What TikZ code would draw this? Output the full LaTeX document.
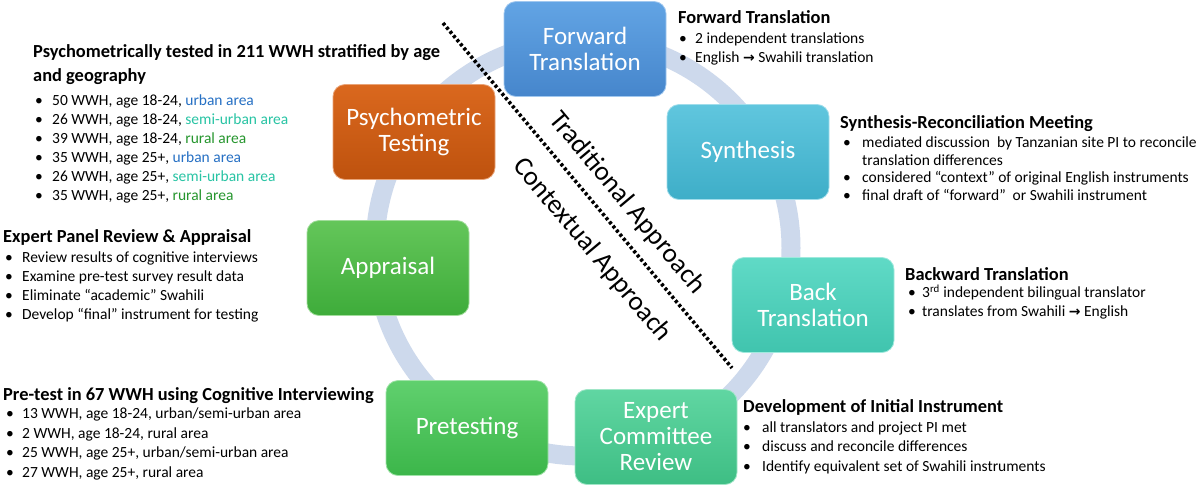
\documentclass[tikz,border=0pt]{standalone}
\usepackage{fontspec}
\setmainfont{Carlito}
\newfontfamily\arrfont{DejaVu Sans}
\definecolor{ringc}{RGB}{205,217,236}
\definecolor{urb}{RGB}{38,112,196}
\definecolor{semi}{RGB}{40,196,164}
\definecolor{rur}{RGB}{38,150,46}
\definecolor{fwdT}{RGB}{98,164,228}\definecolor{fwdB}{RGB}{70,134,204}
\definecolor{synT}{RGB}{96,198,222}\definecolor{synB}{RGB}{62,174,200}
\definecolor{bckT}{RGB}{96,218,198}\definecolor{bckB}{RGB}{64,196,174}
\definecolor{expT}{RGB}{96,214,162}\definecolor{expB}{RGB}{62,190,132}
\definecolor{preT}{RGB}{96,208,110}\definecolor{preB}{RGB}{60,182,74}
\definecolor{appT}{RGB}{100,198,90}\definecolor{appB}{RGB}{62,172,58}
\definecolor{psyT}{RGB}{218,104,30}\definecolor{psyB}{RGB}{190,82,14}
\newcommand{\arr}{{\arrfont\bfseries\fontsize{14}{14}\selectfont →}}
\newcommand{\bu}[1]{\makebox[#1][l]{•}}
\begin{document}
\begin{tikzpicture}[x=1pt,y=-1pt,
  stage/.style={rounded corners=12pt, minimum width=162pt, minimum height=95pt,
    text=white, font=\fontsize{25}{26}\selectfont, align=center, inner sep=0pt,
    line width=0.8pt},
  hd/.style={anchor=base west, inner sep=0pt, font=\bfseries\fontsize{18.4}{22}\selectfont},
  bl/.style={anchor=base west, inner sep=0pt, font=\fontsize{15.5}{19}\selectfont},
  appr/.style={font=\fontsize{27}{30}\selectfont, inner sep=0pt, rotate=-50}]
\useasboundingbox (0,0) rectangle (1200,485);
\fill[white] (0,0) rectangle (1200,485);
% ring
\coordinate (rc) at (583,248);
\draw[ringc, line width=19pt] (rc) circle (208);
% stages
\node[stage, top color=fwdT, bottom color=fwdB, draw=fwdT!60!white] (fwd) at (585,49) {Forward\\Translation};
\node[stage, top color=synT, bottom color=synB, draw=synT!60!white] (syn) at (748,152) {Synthesis};
\node[stage, top color=bckT, bottom color=bckB, draw=bckT!60!white] (bck) at (813,305) {Back\\Translation};
\node[stage, top color=expT, bottom color=expB, draw=expT!60!white] (exp) at (656,437) {Expert\\Committee\\Review};
\node[stage, top color=preT, bottom color=preB, draw=preT!60!white] (pre) at (467,428) {Pretesting};
\node[stage, top color=appT, bottom color=appB, draw=appT!60!white] (app) at (388,268) {Appraisal};
\node[stage, top color=psyT, bottom color=psyB, draw=psyT!60!white] (psy) at (414,132) {Psychometric\\Testing};
% dotted divider
\coordinate (d1) at (443,23);
\coordinate (d2) at (732,368);
\draw[line width=3.6pt, dash pattern=on 3pt off 2.4pt] (d1) -- (d2);
\node[appr] (trad) at (627,203) {Traditional Approach};
\node[appr] (ctx) at (592,250) {Contextual Approach};
% psychometric block
\node[hd] (ph1) at (33,57.5) {Psychometrically tested in 211 WWH stratified by age};
\node[hd] (ph2) at (33,81.5) {and geography};
\node[bl] (pb1) at (35,105.5) {\bu{17pt}50 WWH, age 18-24, \textcolor{urb}{urban area}};
\node[bl] (pb2) at (35,124.5) {\bu{17pt}26 WWH, age 18-24, \textcolor{semi}{semi-urban area}};
\node[bl] (pb3) at (35,143.5) {\bu{17pt}39 WWH, age 18-24, \textcolor{rur}{rural area}};
\node[bl] (pb4) at (35,162.5) {\bu{17pt}35 WWH, age 25+, \textcolor{urb}{urban area}};
\node[bl] (pb5) at (35,181.5) {\bu{17pt}26 WWH, age 25+, \textcolor{semi}{semi-urban area}};
\node[bl] (pb6) at (35,200.5) {\bu{17pt}35 WWH, age 25+, \textcolor{rur}{rural area}};
% expert panel block
\node[hd] (eh) at (3,242.5) {Expert Panel Review \& Appraisal};
\node[bl] (eb1) at (5,262.5) {\bu{17pt}Review results of cognitive interviews};
\node[bl] (eb2) at (5,281.5) {\bu{17pt}Examine pre-test survey result data};
\node[bl] (eb3) at (5,300) {\bu{17pt}Eliminate “academic” Swahili};
\node[bl] (eb4) at (5,319) {\bu{17pt}Develop “final” instrument for testing};
% pre-test block
\node[hd] (th) at (3,400.5) {Pre-test in 67 WWH using Cognitive Interviewing};
\node[bl] (tb1) at (6,418.5) {\bu{16pt}13 WWH, age 18-24, urban/semi-urban area};
\node[bl] (tb2) at (6,438) {\bu{16pt}2 WWH, age 18-24, rural area};
\node[bl] (tb3) at (6,457.5) {\bu{16pt}25 WWH, age 25+, urban/semi-urban area};
\node[bl] (tb4) at (6,477) {\bu{16pt}27 WWH, age 25+, rural area};
% forward block
\node[hd] (fh) at (678,23.5) {Forward Translation};
\node[bl] (fb1) at (679,43.5) {\bu{16pt}2 independent translations};
\node[bl] (fb2) at (679,62.5) {\bu{16pt}English \arr{} Swahili translation};
% synthesis block
\node[hd] (sh) at (840,128.5) {Synthesis-Reconciliation Meeting};
\node[bl] (sb1) at (843,147.5) {\bu{19pt}mediated discussion\ \ by Tanzanian site PI to reconcile};
\node[bl] (sb1b) at (862,165) {translation differences};
\node[bl] (sb2) at (843,182.5) {\bu{19pt}considered “context” of original English instruments};
\node[bl] (sb3) at (843,200.5) {\bu{19pt}final draft of “forward”\ \ or Swahili instrument};
% backward block
\node[hd] (bh) at (905,280.5) {Backward Translation};
\node[bl] (bb1) at (908,297.5) {\bu{14pt}3\textsuperscript{rd} independent bilingual translator};
\node[bl] (bb2) at (908,316.5) {\bu{14pt}translates from Swahili \arr{} English};
% development block
\node[hd] (dh) at (743,412.5) {Development of Initial Instrument};
\node[bl] (db1) at (743,432.5) {\bu{19pt}all translators and project PI met};
\node[bl] (db2) at (743,451.5) {\bu{19pt}discuss and reconcile differences};
\node[bl] (db3) at (743,471.5) {\bu{19pt}Identify equivalent set of Swahili instruments};
\end{tikzpicture}
\end{document}
